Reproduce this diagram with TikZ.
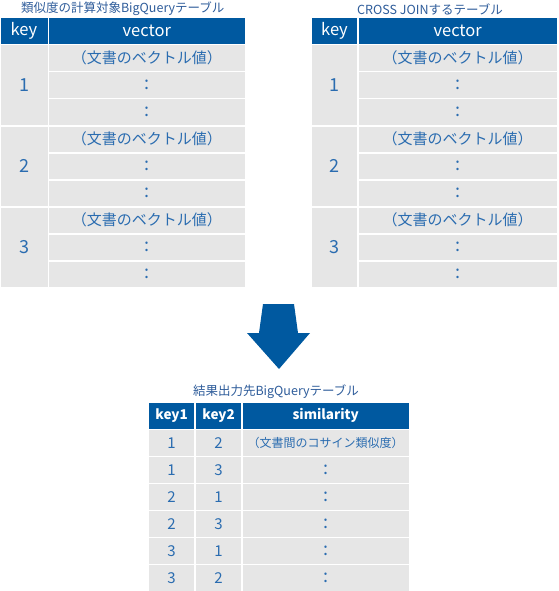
\documentclass[tikz,border=0pt]{standalone}
\usepackage{fontspec}
\setmainfont{Noto Sans CJK JP}

\definecolor{headblue}{RGB}{0,89,160}
\definecolor{cellgray}{RGB}{230,230,230}
\definecolor{cellblue}{RGB}{42,108,176}
\definecolor{titleblue}{RGB}{46,92,154}

\begin{document}
\begin{tikzpicture}[
    x=1pt, y=-1pt,
    head/.style={
        rectangle, fill=headblue, text=white,
        inner sep=0pt, outer sep=0pt, minimum height=25.5pt,
        font=\fontsize{16.5}{18}\selectfont
    },
    boldhead/.style={head, font=\bfseries\fontsize{13.5}{15}\selectfont},
    cell/.style={
        rectangle, fill=cellgray, text=cellblue,
        inner sep=0pt, outer sep=0pt, minimum height=25.5pt,
        font=\fontsize{15}{16}\selectfont
    },
    dots/.style={cell, font=\fontsize{18}{18}\selectfont},
    keycell/.style={cell, minimum height=79.5pt, font=\fontsize{18}{18}\selectfont},
    tabletitle/.style={text=titleblue, font=\fontsize{12.5}{14}\selectfont},
    blockarrow/.style={fill=headblue, draw=none},
]
    \useasboundingbox (0,0) rectangle (558,591);

    % Column x-coordinates (centres) of the two upper tables.
    \def\xKeyL{24}
    \def\xVecL{146.75}
    \def\xKeyR{334.5}
    \def\xVecR{457.7}

    % Row y-coordinates of the two upper tables.
    \def\yHead{31.25}
    \def\yA{58.25}  \def\yB{85.25}  \def\yC{112.25}
    \def\yD{139.25} \def\yE{166.25} \def\yF{193.25}
    \def\yG{220.25} \def\yH{247.25} \def\yI{274.25}

    % ---------- Left table ----------
    \node[tabletitle] (left-title) at (122.75, 9) {類似度の計算対象BigQueryテーブル};
    \node[head, minimum width=47pt] (left-key-header) at (\xKeyL, \yHead) {key};
    \node[head, minimum width=196.5pt] (left-vec-header) at (\xVecL, \yHead) {vector};

    \node[keycell, minimum width=47pt] (left-key1) at (\xKeyL, \yB) {1};
    \node[keycell, minimum width=47pt] (left-key2) at (\xKeyL, \yE) {2};
    \node[keycell, minimum width=47pt] (left-key3) at (\xKeyL, \yH) {3};

    \node[cell, minimum width=196.5pt] (left-vec1a) at (\xVecL, \yA) {（文書のベクトル値）};
    \node[dots, minimum width=196.5pt] (left-vec1b) at (\xVecL, \yB) {:};
    \node[dots, minimum width=196.5pt] (left-vec1c) at (\xVecL, \yC) {:};
    \node[cell, minimum width=196.5pt] (left-vec2a) at (\xVecL, \yD) {（文書のベクトル値）};
    \node[dots, minimum width=196.5pt] (left-vec2b) at (\xVecL, \yE) {:};
    \node[dots, minimum width=196.5pt] (left-vec2c) at (\xVecL, \yF) {:};
    \node[cell, minimum width=196.5pt] (left-vec3a) at (\xVecL, \yG) {（文書のベクトル値）};
    \node[dots, minimum width=196.5pt] (left-vec3b) at (\xVecL, \yH) {:};
    \node[dots, minimum width=196.5pt] (left-vec3c) at (\xVecL, \yI) {:};

    % ---------- Right table ----------
    \node[tabletitle] (right-title) at (430, 9) {CROSS JOINするテーブル};
    \node[head, minimum width=45.6pt] (right-key-header) at (\xKeyR, \yHead) {key};
    \node[head, minimum width=198pt] (right-vec-header) at (\xVecR, \yHead) {vector};

    \node[keycell, minimum width=45.6pt] (right-key1) at (\xKeyR, \yB) {1};
    \node[keycell, minimum width=45.6pt] (right-key2) at (\xKeyR, \yE) {2};
    \node[keycell, minimum width=45.6pt] (right-key3) at (\xKeyR, \yH) {3};

    \node[cell, minimum width=198pt] (right-vec1a) at (\xVecR, \yA) {（文書のベクトル値）};
    \node[dots, minimum width=198pt] (right-vec1b) at (\xVecR, \yB) {:};
    \node[dots, minimum width=198pt] (right-vec1c) at (\xVecR, \yC) {:};
    \node[cell, minimum width=198pt] (right-vec2a) at (\xVecR, \yD) {（文書のベクトル値）};
    \node[dots, minimum width=198pt] (right-vec2b) at (\xVecR, \yE) {:};
    \node[dots, minimum width=198pt] (right-vec2c) at (\xVecR, \yF) {:};
    \node[cell, minimum width=198pt] (right-vec3a) at (\xVecR, \yG) {（文書のベクトル値）};
    \node[dots, minimum width=198pt] (right-vec3b) at (\xVecR, \yH) {:};
    \node[dots, minimum width=198pt] (right-vec3c) at (\xVecR, \yI) {:};

    % ---------- Arrow ----------
    \fill[blockarrow] (263,304) -- (294,304) -- (298,333) -- (310,333)
        -- (279,369) -- (247,333) -- (259,333) -- cycle;

    % ---------- Result table ----------
    \def\xKeyA{171.65}
    \def\xKeyB{218.65}
    \def\xSim{325.7}
    \def\yResHead{415.75}
    \def\yRa{442.75} \def\yRb{469.75} \def\yRc{496.75}
    \def\yRd{523.75} \def\yRe{550.75} \def\yRf{577.75}

    \node[tabletitle] (result-title) at (276, 392) {結果出力先BigQueryテーブル};
    \node[boldhead, minimum width=45.3pt] (key1-header) at (\xKeyA, \yResHead) {key1};
    \node[boldhead, minimum width=45.3pt] (key2-header) at (\xKeyB, \yResHead) {key2};
    \node[boldhead, minimum width=166pt] (sim-header) at (\xSim, \yResHead) {similarity};

    \node[cell, minimum width=45.3pt] (res1-k1) at (\xKeyA, \yRa) {1};
    \node[cell, minimum width=45.3pt] (res1-k2) at (\xKeyB, \yRa) {2};
    \node[cell, minimum width=166pt, font=\fontsize{12}{14}\selectfont] (res1-sim) at (\xSim, \yRa) {（文書間のコサイン類似度）};
    \node[cell, minimum width=45.3pt] (res2-k1) at (\xKeyA, \yRb) {1};
    \node[cell, minimum width=45.3pt] (res2-k2) at (\xKeyB, \yRb) {3};
    \node[dots, minimum width=166pt] (res2-sim) at (\xSim, \yRb) {:};
    \node[cell, minimum width=45.3pt] (res3-k1) at (\xKeyA, \yRc) {2};
    \node[cell, minimum width=45.3pt] (res3-k2) at (\xKeyB, \yRc) {1};
    \node[dots, minimum width=166pt] (res3-sim) at (\xSim, \yRc) {:};
    \node[cell, minimum width=45.3pt] (res4-k1) at (\xKeyA, \yRd) {2};
    \node[cell, minimum width=45.3pt] (res4-k2) at (\xKeyB, \yRd) {3};
    \node[dots, minimum width=166pt] (res4-sim) at (\xSim, \yRd) {:};
    \node[cell, minimum width=45.3pt] (res5-k1) at (\xKeyA, \yRe) {3};
    \node[cell, minimum width=45.3pt] (res5-k2) at (\xKeyB, \yRe) {1};
    \node[dots, minimum width=166pt] (res5-sim) at (\xSim, \yRe) {:};
    \node[cell, minimum width=45.3pt] (res6-k1) at (\xKeyA, \yRf) {3};
    \node[cell, minimum width=45.3pt] (res6-k2) at (\xKeyB, \yRf) {2};
    \node[dots, minimum width=166pt] (res6-sim) at (\xSim, \yRf) {:};

\end{tikzpicture}
\end{document}
